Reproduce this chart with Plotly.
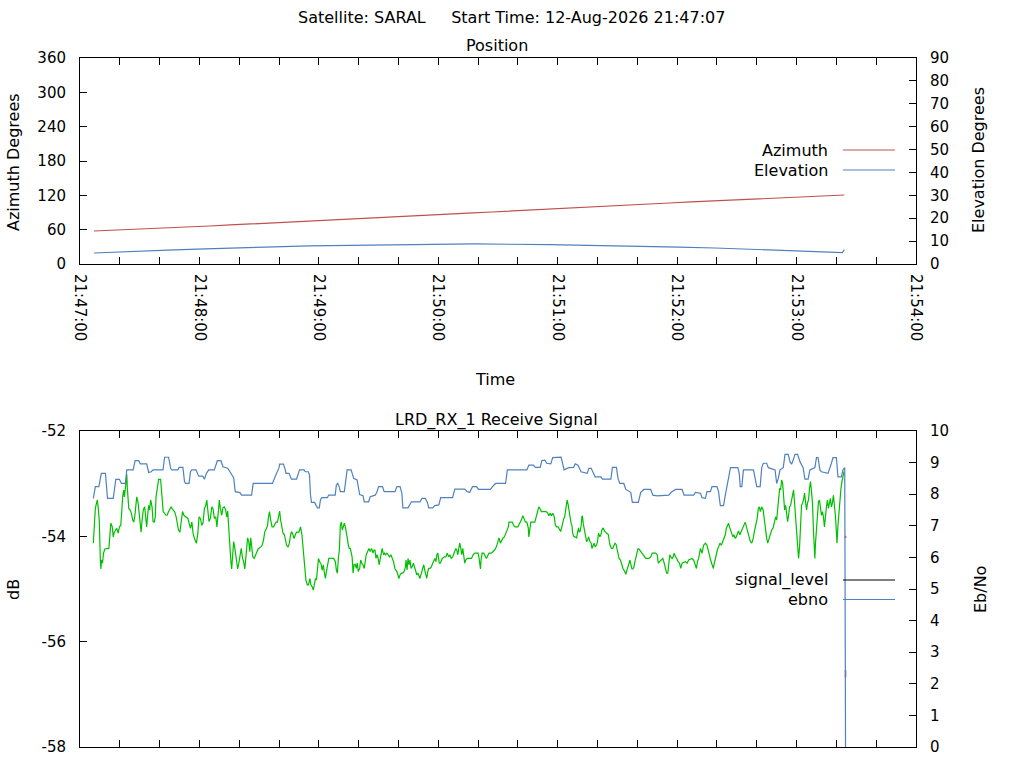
import pandas as pd
import plotly.graph_objects as go

# ---------------- data ----------------
START = pd.Timestamp("2026-08-12 21:47:00")
X_END = START + pd.Timedelta(minutes=7)

# Position plot: seconds after 21:47:00
az_sec = [7, 20, 31, 42.5, 54, 65, 75.5, 86, 97, 107.5, 117.5, 127.5, 138, 148.5, 158,
          167.5, 177.5, 187.5, 197.5, 207, 216, 225.5, 235.5, 245.5, 255, 265.5, 276, 286,
          296, 307, 318.5, 329, 339.5, 350.5, 362.5, 375, 384]
az_deg = [57.7, 59.4, 61.2, 62.9, 64.7, 66.4, 68.2, 69.9, 71.7, 73.4, 75.2, 76.9, 78.7,
          80.4, 82.2, 83.9, 85.7, 87.4, 89.2, 90.9, 92.6, 94.4, 96.1, 97.9, 99.6, 101.4,
          103.1, 104.9, 106.6, 108.4, 110.1, 111.9, 113.6, 115.4, 117.1, 118.9, 120.6]

el_sec = [7, 16.5, 30, 44, 59, 75, 93, 115, 143.5, 160, 198, 236, 252, 280, 301, 319, 335,
          350, 364, 377, 383, 384]
el_deg = [4.8, 5.2, 5.7, 6.1, 6.5, 7.0, 7.4, 7.9, 8.3, 8.5, 8.75, 8.5, 8.3, 7.9, 7.4, 7.0,
          6.5, 6.1, 5.7, 5.2, 5.0, 6.3]

# tick labels of the dB axis (plain hyphen minus, as in the original)
db_tickvals = [-58, -56, -54, -52]
db_ticktext = ["-58", "-56", "-54", "-52"]

# Receive signal level (dB), (seconds, dB)
level_pts = [
    (6.7, -54.13), (7.2, -53.79), (7.7, -53.47), (8.3, -53.37), (8.7, -53.31), (9.2, -53.47),
    (9.7, -53.72), (10.2, -54.42), (10.5, -54.62), (10.8, -54.45), (11.3, -54.51), (11.8, -54.32),
    (12.5, -54.24), (14.5, -54.23), (15.0, -54.04), (15.5, -53.75), (16.2, -53.82), (16.7, -54.01),
    (17.2, -53.92), (18.0, -53.88), (18.5, -53.85), (19.2, -53.94), (19.8, -53.82), (20.5, -53.79),
    (20.8, -53.56), (21.5, -53.22), (22.0, -53.12), (22.3, -53.25), (22.8, -53.09), (23.2, -52.93),
    (23.5, -52.82), (23.8, -53.09), (24.2, -53.25), (24.5, -53.47), (25.2, -53.50), (25.8, -53.56),
    (26.5, -53.69), (27.0, -53.73), (27.5, -53.63), (28.0, -53.47), (28.5, -53.25), (29.2, -53.37),
    (29.7, -53.53), (30.2, -53.79), (30.7, -53.92), (31.2, -53.69), (31.8, -53.50), (32.5, -53.44),
    (33.0, -53.72), (33.5, -53.82), (34.0, -53.60), (34.5, -53.41), (35.0, -53.50), (35.5, -53.31),
    (36.2, -53.44), (36.7, -53.72), (37.3, -53.73), (37.8, -53.63), (38.2, -53.25), (38.8, -53.06),
    (39.5, -52.92), (40.5, -52.92), (40.8, -53.03), (41.3, -53.28), (41.8, -53.53), (43.2, -53.60),
    (43.8, -53.60), (44.5, -53.53), (45.2, -53.47), (45.8, -53.44), (46.7, -53.50), (47.5, -53.53),
    (48.3, -53.63), (48.8, -53.75), (49.5, -53.88), (50.2, -53.92), (50.8, -53.72), (51.5, -53.53),
    (52.2, -53.60), (53.5, -53.63), (54.2, -53.66), (54.8, -53.75), (55.5, -53.85), (56.2, -53.73),
    (56.8, -53.94), (57.5, -54.04), (58.5, -54.13), (59.2, -53.94), (59.8, -53.63), (60.5, -53.66),
    (61.2, -53.79), (61.8, -53.75), (62.5, -53.47), (63.2, -53.41), (63.7, -53.31), (64.2, -53.50),
    (64.8, -53.72), (65.5, -53.66), (66.2, -53.44), (66.8, -53.47), (67.5, -53.66), (68.2, -53.63),
    (68.8, -53.82), (69.5, -53.53), (70.0, -53.31), (70.5, -53.47), (71.2, -53.60), (71.8, -53.46),
    (72.5, -53.44), (73.2, -53.50), (73.7, -53.63), (74.2, -53.52), (74.7, -53.91), (75.2, -54.17),
    (75.8, -54.48), (76.2, -54.62), (76.7, -54.39), (77.2, -54.10), (77.8, -54.23), (78.5, -54.48),
    (79.2, -54.62), (79.8, -54.51), (80.5, -54.32), (81.0, -54.23), (81.7, -54.42), (82.2, -54.48),
    (82.8, -54.62), (83.3, -54.42), (83.8, -54.17), (84.2, -54.03), (84.8, -54.10), (85.3, -54.29),
    (85.8, -54.03), (86.3, -54.17), (86.8, -54.39), (87.5, -54.42), (88.2, -54.36), (88.8, -54.29),
    (89.5, -54.24), (90.8, -54.20), (91.5, -54.17), (92.2, -54.07), (92.8, -53.92), (93.5, -53.86),
    (94.2, -53.80), (94.7, -53.63), (95.2, -53.53), (95.8, -53.69), (96.5, -53.82), (97.2, -53.82),
    (97.8, -53.77), (98.5, -53.73), (99.2, -53.73), (99.8, -53.60),
    (100.3, -53.52), (100.8, -53.69), (101.3, -53.82), (102.0, -53.94), (102.7, -53.97), (103.3, -54.10),
    (103.8, -54.17), (104.5, -54.20), (105.2, -54.13), (105.8, -53.97), (106.3, -53.91), (107.0, -53.97),
    (107.5, -54.04), (108.2, -53.97), (108.8, -53.92), (110.0, -53.92), (110.8, -53.82), (111.5, -53.97),
    (112.0, -54.17), (112.5, -54.42), (113.0, -54.67), (113.5, -54.83), (114.2, -54.92), (114.8, -54.92),
    (115.5, -54.80), (116.0, -54.92), (116.7, -54.96), (117.2, -55.02), (117.7, -54.92), (118.3, -54.80),
    (118.8, -54.83), (119.3, -54.67), (119.8, -54.42), (120.5, -54.49), (121.0, -54.51), (121.7, -54.64),
    (122.2, -54.54), (122.7, -54.67), (123.3, -54.80), (123.8, -54.67), (124.5, -54.54), (125.0, -54.42),
    (127.5, -54.42), (128.3, -54.48), (128.8, -54.64), (129.3, -54.70), (129.8, -54.42), (130.3, -54.26),
    (130.8, -53.79), (131.3, -53.73), (131.8, -53.88), (132.3, -53.79), (132.8, -53.75), (133.3, -53.82),
    (133.8, -53.91), (134.3, -54.04), (134.8, -54.17), (135.3, -54.23), (135.8, -54.23), (136.2, -54.29),
    (136.7, -54.39), (137.2, -54.70), (137.7, -54.54), (138.3, -54.53), (138.8, -54.61), (139.3, -54.51),
    (139.8, -54.67), (140.5, -54.61), (141.0, -54.45), (141.5, -54.51), (142.2, -54.54), (142.8, -54.61),
    (143.3, -54.48), (143.8, -54.35), (144.5, -54.29), (145.2, -54.23), (145.8, -54.29), (146.5, -54.23),
    (147.2, -54.32), (147.7, -54.26), (148.2, -54.26), (148.7, -54.42), (149.2, -54.35), (149.8, -54.42),
    (150.3, -54.54), (150.8, -54.42), (151.3, -54.29), (151.8, -54.23), (152.5, -54.35), (153.0, -54.32),
    (153.5, -54.35), (154.2, -54.32), (154.8, -54.35), (155.5, -54.39), (156.2, -54.35), (156.8, -54.42),
    (157.5, -54.48), (158.2, -54.61), (158.7, -54.64), (159.2, -54.67), (159.7, -54.73), (160.2, -54.80),
    (160.8, -54.73), (161.5, -54.70), (162.2, -54.70), (162.8, -54.67), (163.5, -54.58), (163.8, -54.45),
    (164.3, -54.64), (164.8, -54.42), (165.3, -54.54), (165.8, -54.45), (166.3, -54.61), (166.8, -54.58),
    (167.5, -54.51), (168.0, -54.58), (168.5, -54.67), (169.2, -54.73), (169.8, -54.70), (170.3, -54.77),
    (170.8, -54.80), (171.5, -54.70), (172.2, -54.58), (172.7, -54.54), (173.2, -54.64), (173.7, -54.70),
    (174.2, -54.80), (174.7, -54.67), (175.2, -54.61), (175.8, -54.61), (176.5, -54.58), (177.2, -54.51),
    (177.7, -54.45), (178.3, -54.42), (178.8, -54.48), (179.3, -54.35), (179.8, -54.32), (180.5, -54.51),
    (181.0, -54.51), (181.5, -54.45), (182.0, -54.42), (183.2, -54.39), (183.8, -54.39), (184.5, -54.32),
    (185.2, -54.39), (185.8, -54.35), (186.5, -54.42), (187.2, -54.39), (187.8, -54.32), (188.3, -54.29),
    (188.8, -54.23), (189.3, -54.26), (189.8, -54.35), (190.3, -54.23), (190.8, -54.13), (191.3, -54.23),
    (191.8, -54.35), (192.3, -54.23), (192.8, -54.45), (193.3, -54.51), (193.8, -54.45), (194.5, -54.42),
    (196.7, -54.42), (197.5, -54.35), (198.3, -54.32), (200.0, -54.32), (200.5, -54.42), (200.8, -54.51),
    (201.2, -54.62), (201.5, -54.45), (202.0, -54.32), (202.8, -54.32), (203.5, -54.37), (204.2, -54.42),
    (204.8, -54.37), (205.5, -54.32), (206.7, -54.32), (207.5, -54.29), (208.3, -54.26), (209.2, -54.20),
    (209.8, -54.10), (210.5, -54.03), (211.2, -54.13), (211.8, -54.07), (212.5, -54.03), (213.2, -54.01),
    (213.8, -53.94), (214.5, -53.88), (215.2, -53.82), (215.5, -53.73), (217.2, -53.73), (217.8, -53.79),
    (218.5, -53.82), (220.0, -53.82), (220.8, -53.77), (221.7, -53.69), (222.5, -53.61), (223.2, -53.66),
    (223.8, -53.73), (224.5, -53.73), (225.2, -53.84), (225.5, -54.01), (225.8, -53.88), (226.5, -53.73),
    (228.5, -53.73), (229.2, -53.63), (229.8, -53.56), (230.3, -53.50), (230.5, -53.44), (231.2, -53.48),
    (231.8, -53.53), (234.2, -53.53), (235.0, -53.56), (235.5, -53.61), (236.2, -53.56), (236.8, -53.61),
    (237.5, -53.56), (238.3, -53.63), (238.8, -53.79), (239.5, -53.82), (240.2, -53.82), (240.8, -53.86),
    (241.5, -53.91), (242.2, -53.80), (242.5, -53.73), (243.0, -53.67), (243.5, -53.63), (244.2, -53.44),
    (244.7, -53.31), (245.2, -53.39), (245.8, -53.50), (246.2, -53.63), (246.7, -53.75), (247.2, -53.80),
    (247.5, -53.94), (248.2, -54.01), (248.8, -54.01), (249.5, -54.03), (250.0, -53.92), (250.5, -53.84),
    (250.8, -53.92), (251.3, -53.90), (251.8, -53.79), (252.2, -53.61), (252.5, -53.63), (252.8, -53.75),
    (253.3, -53.85), (253.8, -53.91), (254.5, -54.10), (255.0, -54.07), (255.5, -54.01), (256.2, -54.10),
    (256.8, -54.13), (257.2, -54.23), (257.8, -54.17), (258.3, -54.13), (258.8, -54.20), (259.5, -54.17),
    (260.0, -54.10), (260.5, -53.94), (261.2, -54.01), (261.7, -53.97), (262.2, -53.88), (262.8, -53.84),
    (263.5, -53.90), (264.2, -53.92), (264.8, -53.94), (265.5, -53.97), (265.8, -54.07), (266.3, -54.17),
    (267.0, -54.23), (267.7, -54.23), (268.3, -54.17), (268.8, -54.13), (269.3, -54.15), (269.8, -54.23),
    (270.3, -54.32), (270.8, -54.42), (271.5, -54.45), (272.2, -54.54), (272.8, -54.61), (273.7, -54.67),
    (274.2, -54.72), (274.8, -54.64), (275.3, -54.58), (275.8, -54.51), (276.3, -54.45), (276.8, -54.54),
    (277.3, -54.62), (277.8, -54.62), (278.3, -54.58), (278.8, -54.48), (279.2, -54.42), (279.8, -54.32),
    (280.3, -54.24), (280.8, -54.24), (281.7, -54.29), (282.5, -54.32), (283.3, -54.39), (284.2, -54.42),
    (285.8, -54.42), (286.7, -54.39), (287.5, -54.32), (289.2, -54.32), (290.0, -54.35),
    (290.5, -54.51), (291.2, -54.48), (292.2, -54.45), (292.8, -54.42), (293.5, -54.51), (294.2, -54.61),
    (294.7, -54.70), (295.3, -54.70), (295.8, -54.51), (296.3, -54.35), (296.8, -54.39), (297.5, -54.42),
    (298.0, -54.39), (298.5, -54.32), (299.2, -54.39), (299.8, -54.42), (300.5, -54.48), (301.2, -54.51),
    (301.8, -54.61), (302.5, -54.51), (304.2, -54.48), (305.0, -54.51), (305.8, -54.45), (307.5, -54.42),
    (308.3, -54.45), (309.2, -54.54), (309.7, -54.61), (310.2, -54.48), (310.8, -54.42), (311.7, -54.23),
    (312.5, -54.32), (313.3, -54.17), (314.2, -54.13), (315.0, -54.17), (315.5, -54.23), (316.2, -54.35),
    (316.8, -54.45), (317.5, -54.54), (318.2, -54.61), (318.7, -54.51), (319.2, -54.42), (319.7, -54.32),
    (320.2, -54.26), (320.8, -54.20), (321.5, -54.13), (322.2, -54.17), (322.8, -54.10), (323.5, -54.04),
    (324.2, -53.97), (324.7, -53.85), (325.2, -53.79), (325.8, -53.75), (326.3, -53.82), (326.8, -53.88),
    (327.5, -53.94), (328.0, -54.01), (328.5, -53.97), (329.2, -54.04), (329.7, -54.01), (330.2, -53.94),
    (330.8, -53.90), (331.5, -53.97), (332.2, -53.91), (332.8, -53.85), (333.5, -53.79), (334.2, -53.73),
    (334.8, -53.82), (335.5, -53.94), (336.2, -54.01), (336.8, -54.10), (337.5, -54.13), (338.2, -54.04),
    (338.8, -53.91), (339.5, -53.79), (340.2, -53.66), (340.8, -53.47), (341.3, -53.44), (341.8, -53.53),
    (342.5, -53.44), (343.2, -53.50), (343.8, -53.72), (344.5, -53.91), (345.0, -54.04), (345.5, -54.13),
    (346.2, -54.04), (346.8, -53.92), (347.5, -53.88), (348.2, -53.84), (348.8, -53.75), (349.5, -53.63),
    (350.0, -53.69), (350.5, -53.47), (351.0, -53.22), (351.5, -53.09), (352.0, -53.12), (352.5, -52.93),
    (353.0, -52.99), (353.5, -53.18), (354.0, -53.50), (354.5, -53.41), (355.0, -53.60), (355.5, -53.72),
    (356.0, -53.60), (356.5, -53.44), (357.0, -53.41), (357.5, -53.31), (358.0, -53.22), (358.5, -53.12),
    (359.0, -53.37), (359.5, -53.60), (360.0, -53.91), (360.5, -54.10), (361.0, -54.42), (361.5, -54.20),
    (362.0, -53.85), (362.5, -53.41), (363.0, -53.37), (363.5, -53.31), (364.0, -53.18), (364.5, -53.31),
    (365.0, -53.50), (365.5, -53.37), (366.0, -53.31), (366.5, -53.09), (367.0, -52.96), (367.5, -53.15),
    (368.0, -53.37), (368.5, -53.91), (369.0, -54.17), (369.2, -54.42), (369.5, -54.13), (370.0, -53.79),
    (370.5, -53.50), (371.0, -53.34), (371.5, -53.31), (372.0, -53.44), (372.5, -53.60), (373.0, -53.53),
    (373.5, -53.63), (374.0, -53.82), (374.5, -53.53), (375.0, -53.44), (375.5, -53.31), (376.0, -53.47),
    (376.5, -53.37), (377.0, -53.28), (377.5, -53.44), (378.0, -53.37), (378.5, -53.22), (379.0, -53.37),
    (379.5, -53.60), (380.0, -53.91), (380.3, -54.13), (380.8, -53.79), (381.3, -53.53), (381.8, -53.25),
    (382.3, -53.09), (382.8, -52.96), (383.3, -52.87), (383.8, -52.77),
]

# Eb/No, (seconds, value)
ebno_pts = [
    (6.7, 7.87), (7.2, 8.08), (7.7, 8.24), (9.5, 8.24), (10.0, 8.40), (10.7, 8.66), (12.8, 8.66),
    (13.5, 8.19), (13.8, 7.87), (16.7, 7.87), (17.5, 8.34), (18.0, 8.47), (19.8, 8.47), (20.8, 8.34),
    (22.8, 8.34), (23.5, 8.77), (26.7, 8.77), (27.7, 9.06), (29.5, 9.06), (30.3, 8.96), (33.5, 8.96),
    (34.5, 8.69), (35.8, 8.71), (36.7, 8.77), (41.7, 8.77), (42.5, 9.17), (44.5, 9.17), (45.5, 8.82),
    (46.2, 8.77), (49.2, 8.77), (49.8, 8.85), (51.7, 8.85), (52.5, 8.40), (53.0, 8.34), (54.8, 8.34),
    (55.5, 8.71), (56.2, 8.77), (58.3, 8.77), (59.2, 8.63), (59.7, 8.57), (61.7, 8.57), (62.5, 8.47),
    (63.5, 8.66), (64.7, 8.77), (67.5, 8.77), (68.5, 8.98), (69.0, 9.06), (70.8, 9.06), (71.8, 8.87),
    (74.2, 8.82), (75.8, 8.66), (77.2, 8.52), (78.0, 8.08), (80.3, 8.05), (81.2, 7.97), (86.2, 7.97),
    (87.0, 8.34), (96.7, 8.34), (97.8, 8.52), (99.2, 8.71), (100.0, 8.84),
    (100.3, 8.95), (102.2, 8.95), (103.0, 8.80), (103.5, 8.66), (105.0, 8.66), (106.2, 8.48),
    (108.8, 8.48), (109.7, 8.66), (110.3, 8.77), (112.5, 8.77), (113.2, 8.71), (114.7, 8.71),
    (115.3, 8.61), (115.8, 7.97), (116.3, 7.74), (117.8, 7.74), (118.7, 7.66), (119.3, 7.57),
    (120.2, 7.57), (120.8, 7.82), (121.5, 7.89), (124.2, 7.89), (125.0, 7.97), (128.2, 7.97),
    (128.8, 8.29), (129.5, 8.34), (130.2, 8.24), (130.8, 8.08), (132.8, 8.08), (133.5, 8.50),
    (134.2, 8.77), (136.2, 8.77), (137.0, 8.61), (137.5, 8.50), (139.2, 8.45), (139.8, 8.19),
    (140.5, 7.99), (142.2, 7.95), (142.8, 7.76), (145.0, 7.76), (145.8, 7.92), (148.3, 7.97),
    (149.2, 8.08), (150.0, 8.24), (152.0, 8.24), (152.8, 8.08), (158.3, 8.08), (159.2, 8.24),
    (160.8, 8.24), (161.7, 8.03), (162.2, 7.57), (164.8, 7.57), (165.8, 7.68), (166.5, 7.76),
    (170.8, 7.76), (171.8, 7.87), (173.5, 7.87), (174.5, 7.74), (175.2, 7.57), (177.2, 7.57),
    (178.2, 7.64), (180.3, 7.66), (181.2, 7.89), (187.2, 7.89), (188.3, 8.16), (193.3, 8.16),
    (194.5, 8.08),
    (195.8, 8.06), (197.2, 8.24), (199.2, 8.24), (200.2, 8.15), (206.2, 8.15), (207.2, 8.24),
    (208.8, 8.34), (213.8, 8.34), (214.7, 8.77), (224.5, 8.77), (225.5, 8.92), (227.8, 8.92),
    (228.8, 8.85), (231.2, 8.85), (232.0, 9.06), (233.5, 9.08), (234.5, 8.98), (236.5, 8.96),
    (237.5, 9.16), (241.7, 9.17), (242.5, 8.92), (243.2, 8.77), (245.5, 8.84), (248.0, 8.85),
    (248.8, 8.96), (250.2, 8.92), (251.7, 8.71), (254.8, 8.66), (255.7, 8.82), (256.8, 8.82),
    (257.8, 8.69), (258.8, 8.55), (261.7, 8.55), (262.5, 8.48), (266.7, 8.48), (267.5, 8.85),
    (269.5, 8.85), (270.3, 8.50), (271.2, 8.34), (273.2, 8.34), (274.2, 8.15), (276.7, 8.06),
    (277.5, 7.74), (280.5, 7.74), (281.7, 8.06), (283.3, 8.15), (286.7, 8.15), (287.8, 7.97),
    (290.0, 7.95),
    (295.8, 7.97), (297.0, 8.06), (299.2, 8.15), (302.5, 8.15), (303.5, 7.97), (308.3, 7.97),
    (309.2, 8.06), (311.7, 8.03), (312.5, 7.89), (314.2, 7.87), (315.0, 8.08), (316.7, 8.08),
    (317.5, 8.24), (320.0, 8.24), (320.8, 8.08), (321.7, 7.64), (323.3, 7.64), (324.2, 7.97),
    (325.5, 8.40), (326.8, 8.84), (330.5, 8.84), (331.2, 8.66), (331.7, 8.24), (332.5, 8.24),
    (333.3, 8.77), (338.3, 8.77), (339.2, 8.50), (340.0, 8.24), (341.7, 8.24), (342.5, 8.84),
    (343.3, 8.98), (345.0, 8.98), (345.8, 8.84), (349.2, 8.77), (350.0, 8.34), (350.8, 8.50),
    (351.7, 8.77), (353.3, 8.84), (354.2, 9.26), (355.8, 9.26), (356.7, 9.03), (357.5, 8.95),
    (358.3, 9.08), (359.2, 9.26), (360.5, 9.26), (361.7, 9.03), (363.3, 8.84), (364.2, 8.48),
    (365.8, 8.48), (366.7, 8.77), (369.2, 8.84), (370.0, 9.16), (370.8, 9.16), (371.7, 8.77),
    (372.5, 8.71), (375.8, 8.66), (377.5, 8.98), (378.3, 9.16), (380.0, 9.16), (380.8, 8.55),
    (382.5, 8.55), (383.3, 8.77), (384.2, 8.84), (384.6, 0.0),
]

# small red marks at the end of the pass (dB)
red_sec = [384.6, 384.6, None, 384.6, 384.6]
red_db = [-53.99, -54.03, None, -56.54, -56.68]

title_text = "Satellite: SARAL     Start Time: 12-Aug-2026 21:47:07"

# ---------------- helpers ----------------
def to_time(secs):
    return [None if s is None else START + pd.Timedelta(seconds=s) for s in secs]

W, H = 1024, 768
ML, MR, MT, MB = 80, 108, 58, 21
PW, PH = W - ML - MR, H - MT - MB

def px_x(px):
    return (px - ML) / PW

def px_y(py):
    return (H - MB - py) / PH

FONT = "DejaVu Sans"
C_AZ = "#c0504d"
C_EL = "#4f81bd"
C_LVL = "#00c000"

fig = go.Figure()

fig.add_trace(go.Scatter(x=to_time(az_sec), y=az_deg, mode="lines", name="Azimuth",
                         line=dict(color=C_AZ, width=1.2), xaxis="x", yaxis="y"))
fig.add_trace(go.Scatter(x=to_time(el_sec), y=el_deg, mode="lines", name="Elevation",
                         line=dict(color=C_EL, width=1.2), xaxis="x", yaxis="y2"))

lvl_sec = [p[0] for p in level_pts]
lvl_db = [p[1] for p in level_pts]
eb_sec = [p[0] for p in ebno_pts]
eb_val = [p[1] for p in ebno_pts]

fig.add_trace(go.Scatter(x=to_time(lvl_sec), y=lvl_db, mode="lines", name="level",
                         line=dict(color=C_LVL, width=1.2), xaxis="x2", yaxis="y3"))
fig.add_trace(go.Scatter(x=to_time(eb_sec), y=eb_val, mode="lines", name="ebno",
                         line=dict(color=C_EL, width=1.2), xaxis="x2", yaxis="y4"))
fig.add_trace(go.Scatter(x=to_time(red_sec), y=red_db, mode="lines", name="mark",
                         line=dict(color=C_AZ, width=1.5), xaxis="x2", yaxis="y3",
                         connectgaps=False))

top_dom = [px_y(264), px_y(58)]
bot_dom = [px_y(747), px_y(431)]

common_x = dict(type="date", range=[START, X_END], showline=True, linecolor="black",
                linewidth=1, mirror="allticks", ticks="inside", ticklen=7, tickcolor="black",
                tick0=START, dtick=60000, showgrid=False, zeroline=False, automargin=False,
                minor=dict(dtick=20000, ticks="inside", ticklen=4, tickcolor="black",
                           showgrid=False),
                tickfont=dict(family=FONT, size=15, color="black"))

common_y = dict(showline=True, linecolor="black", linewidth=1, ticks="inside", ticklen=7,
                tickcolor="black", showgrid=False, zeroline=False, automargin=False,
                tickfont=dict(family=FONT, size=15, color="black"))

fig.update_layout(
    template="none",
    width=W, height=H, margin=dict(l=ML, r=MR, t=MT, b=MB, autoexpand=False),
    paper_bgcolor="white", plot_bgcolor="white", showlegend=False,
    font=dict(family=FONT, size=16, color="black"),
    xaxis=dict(common_x, domain=[0, 1], anchor="y", tickformat="%H:%M:%S", tickangle=90,
               ticklabelstandoff=6),
    yaxis=dict(common_y, domain=top_dom, anchor="x", range=[0, 360], tick0=0, dtick=60,
               ticklabelstandoff=10),
    yaxis2=dict(common_y, overlaying="y", side="right", anchor="x", range=[0, 90], tick0=0,
                dtick=10, ticklabelstandoff=10),
    xaxis2=dict(common_x, domain=[0, 1], anchor="y3", showticklabels=False),
    yaxis3=dict(common_y, domain=bot_dom, anchor="x2", range=[-58, -52],
                tickmode="array", tickvals=db_tickvals, ticktext=db_ticktext,
                ticklabelstandoff=10),
    yaxis4=dict(common_y, overlaying="y3", side="right", anchor="x2", range=[0, 10], tick0=0,
                dtick=1, ticklabelstandoff=10),
)

def label(text, xp, yp, angle=0, xanchor="center"):
    fig.add_annotation(text=text, x=px_x(xp), y=px_y(yp), xref="paper", yref="paper",
                       showarrow=False, textangle=angle, xanchor=xanchor, yanchor="middle",
                       font=dict(family=FONT, size=16, color="black"))

label(title_text, 511, 17)
label("Position", 497, 46)
label("Time", 495, 379)
label("LRD_RX_1 Receive Signal", 496, 420)
label("Azimuth Degrees", 14, 162, angle=-90)
label("Elevation Degrees", 978, 160, angle=-90)
label("dB", 13, 590, angle=-90)
label("Eb/No", 980, 590, angle=-90)

# legend keys (text right-aligned, sample line to the right, as in the original)
legend_items = [("Azimuth", C_AZ, 150), ("Elevation", C_EL, 170),
                ("signal_level", "black", 580), ("ebno", C_EL, 599.5)]
for txt, col, ypx in legend_items:
    label(txt, 830, ypx, xanchor="right")
    fig.add_shape(type="line", xref="paper", yref="paper", x0=px_x(843), x1=px_x(895),
                  y0=px_y(ypx), y1=px_y(ypx), line=dict(color=col, width=1))

fig.write_html("out.html",
               config={"displayModeBar": False},
               post_script="document.body.style.margin='0';"
                           "document.body.style.overflow='hidden';")
